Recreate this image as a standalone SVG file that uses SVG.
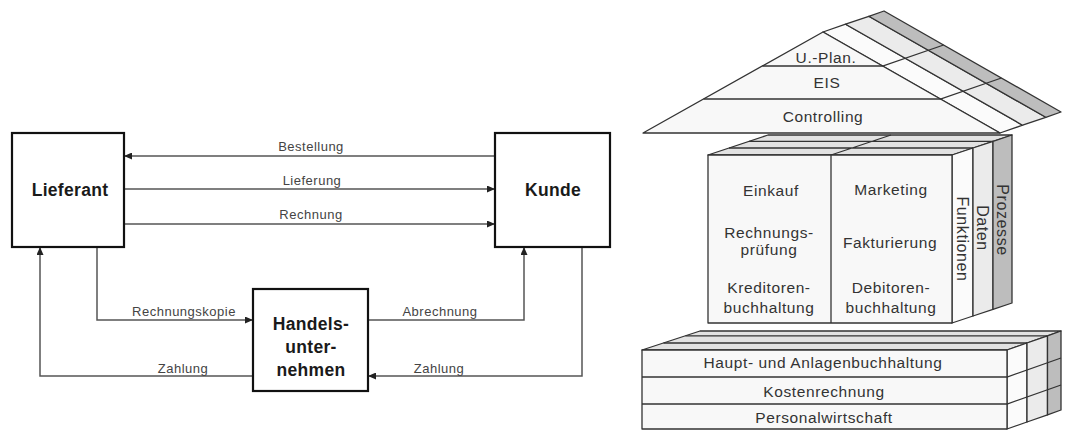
<svg xmlns="http://www.w3.org/2000/svg" width="1066" height="432" viewBox="0 0 1066 432">
  <defs>
    <marker id="arrow" viewBox="0 0 8 7" refX="8" refY="3.5" markerWidth="8" markerHeight="7" markerUnits="userSpaceOnUse" orient="auto">
      <path d="M0,0 L8,3.5 L0,7 z" fill="#222"/>
    </marker>
    <style>
      .box{fill:#fff;stroke:#111;stroke-width:2.2}
      .node-label{font-family:"Liberation Sans",Arial,sans-serif;font-weight:bold;font-size:17.5px;letter-spacing:0.3px;fill:#1a1a1a;text-anchor:middle}
      .edge{fill:none;stroke:#555;stroke-width:1.5}
      .edge-label{font-family:"Liberation Sans",Arial,sans-serif;font-size:13px;letter-spacing:0.5px;fill:#444;text-anchor:middle}
      .face{stroke:#333;stroke-width:1.3;stroke-linejoin:round}
      .front{fill:#f8f8f8}
      .top{fill:#e2e2e2}
      .s1{fill:#fbfbfb}
      .s2{fill:#ebebeb}
      .s3{fill:#bdbdbd}
      .ln{fill:none;stroke:#333;stroke-width:1.3}
      .arch{font-family:"Liberation Sans",Arial,sans-serif;font-size:15.5px;letter-spacing:0.6px;fill:#333;text-anchor:middle}
      .side{font-family:"Liberation Sans",Arial,sans-serif;font-size:16px;letter-spacing:0.6px;fill:#333;text-anchor:middle}
    </style>
  </defs>

  <rect width="1066" height="432" fill="#fff"/>

  <!-- flow diagram: connectors -->
  <g id="connectors">
    <path class="edge" d="M495,156 H124" marker-end="url(#arrow)"/>
    <path class="edge" d="M124,189 H495" marker-end="url(#arrow)"/>
    <path class="edge" d="M124,224 H495" marker-end="url(#arrow)"/>
    <path class="edge" d="M97,247 V320 H253" marker-end="url(#arrow)"/>
    <path class="edge" d="M253,376 H40 V247" marker-end="url(#arrow)"/>
    <path class="edge" d="M368,320 H524 V247" marker-end="url(#arrow)"/>
    <path class="edge" d="M582,247 V376 H368" marker-end="url(#arrow)"/>
    <text class="edge-label" x="311" y="151">Bestellung</text>
    <text class="edge-label" x="312" y="185">Lieferung</text>
    <text class="edge-label" x="311" y="219">Rechnung</text>
    <text class="edge-label" x="184" y="316">Rechnungskopie</text>
    <text class="edge-label" x="183" y="373">Zahlung</text>
    <text class="edge-label" x="440" y="316">Abrechnung</text>
    <text class="edge-label" x="439" y="373">Zahlung</text>
  </g>

  <g id="lieferant">
    <rect class="box" x="12" y="133" width="112" height="114"/>
    <text class="node-label" x="70" y="196">Lieferant</text>
  </g>

  <g id="kunde">
    <rect class="box" x="495" y="133" width="115" height="114"/>
    <text class="node-label" x="553" y="196">Kunde</text>
  </g>

  <g id="handelsunternehmen">
    <rect class="box" x="253" y="289" width="115" height="102"/>
    <text class="node-label" x="311" y="330">Handels-</text>
    <text class="node-label" x="311" y="353">unter-</text>
    <text class="node-label" x="311" y="376">nehmen</text>
  </g>

  <!-- house model: roof -->
  <g id="roof">
    <polygon class="face s1" points="823,32 845.6,24.2 1022.6,125.2 1000,133"/>
    <polygon class="face s2" points="845.6,24.2 868.8,16.3 1045.8,117.3 1022.6,125.2"/>
    <polygon class="face s3" points="868.8,16.3 884,11 1061,112 1045.8,117.3"/>
    <polygon class="face front" points="643,133 823,32 1000,133" stroke-width="1.6"/>
    <path class="ln" d="M762.4,66 H882.6 L943.6,45 M703.6,99 H940.4 L1001.4,78"/>
    <text class="arch" x="826" y="63">U.-Plan.</text>
    <text class="arch" x="827" y="88">EIS</text>
    <text class="arch" x="823" y="122">Controlling</text>
  </g>

  <!-- house model: application block -->
  <g id="anwendungen">
    <polygon class="face top" points="708,155 768,135 1012,135 952,155"/>
    <path class="ln" d="M831,155 L891,135 M729,148 H973 M749,141.3 H993"/>
    <polygon class="face s1" points="952,155 973,148 973,316 952,323"/>
    <polygon class="face s2" points="973,148 993,141.3 993,309.3 973,316"/>
    <polygon class="face s3" points="993,141.3 1012,135 1012,303 993,309.3"/>
    <rect class="face front" x="708" y="155" width="244" height="168"/>
    <path class="ln" d="M831,155 V323"/>
    <text class="arch" x="771" y="196">Einkauf</text>
    <text class="arch" x="769" y="238">Rechnungs-</text>
    <text class="arch" x="769" y="255">prüfung</text>
    <text class="arch" x="769" y="293">Kreditoren-</text>
    <text class="arch" x="769" y="313">buchhaltung</text>
    <text class="arch" x="891" y="195">Marketing</text>
    <text class="arch" x="890" y="248">Fakturierung</text>
    <text class="arch" x="891" y="293">Debitoren-</text>
    <text class="arch" x="891" y="313">buchhaltung</text>
    <text class="side" transform="translate(956.5,239) rotate(90)">Funktionen</text>
    <text class="side" transform="translate(977,228) rotate(90)">Daten</text>
    <text class="side" transform="translate(996.5,220) rotate(90)">Prozesse</text>
  </g>

  <!-- house model: base block -->
  <g id="basis">
    <polygon class="face top" points="642,350 700,331 1061,331 1007,350"/>
    <path class="ln" d="M663.5,343 H1027 M685.5,335.8 H1047.5"/>
    <polygon class="face s1" points="1007,350 1027,343 1027,422 1007,429"/>
    <polygon class="face s2" points="1027,343 1047.5,335.8 1047.5,414.8 1027,422"/>
    <polygon class="face s3" points="1047.5,335.8 1061,331 1061,410 1047.5,414.8"/>
    <rect class="face front" x="642" y="350" width="365" height="79"/>
    <path class="ln" d="M642,377 H1007 L1061,358 M642,404 H1007 L1061,385"/>
    <text class="arch" x="823" y="368">Haupt- und Anlagenbuchhaltung</text>
    <text class="arch" x="824" y="397">Kostenrechnung</text>
    <text class="arch" x="824" y="423">Personalwirtschaft</text>
  </g>
</svg>
